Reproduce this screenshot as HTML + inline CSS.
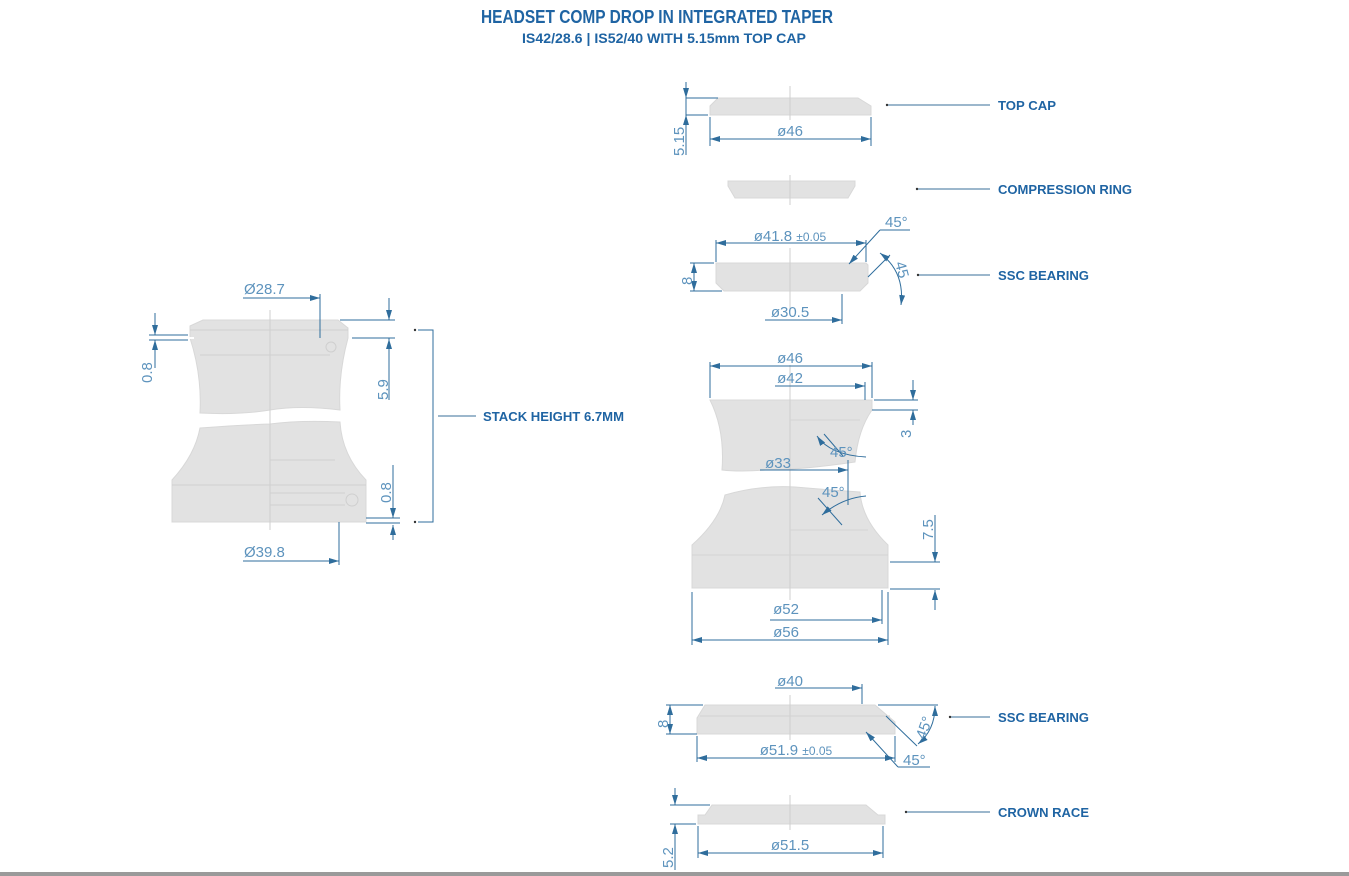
<!DOCTYPE html>
<html><head><meta charset="utf-8"><style>
html,body{margin:0;padding:0;background:#fff;}
svg{display:block;}
.t{font-family:"Liberation Sans Narrow","Liberation Sans",sans-serif;font-weight:bold;fill:#1f64a3;}
.d{font-family:"Liberation Sans",sans-serif;fill:#5d93bd;font-size:15px;}
.p{fill:#e2e2e2;stroke:#d8d8d8;stroke-width:1;}
.l{stroke:#2f6d9c;stroke-width:1;fill:none;}
.c{stroke:#cfcfcf;stroke-width:1;}
.ld{stroke:#3a6f99;stroke-width:1;}
</style></head><body>
<svg width="1349" height="876" viewBox="0 0 1349 876" xmlns="http://www.w3.org/2000/svg">
<defs>
<marker id="a" viewBox="0 0 10 6" refX="10" refY="3" markerWidth="10" markerHeight="6" orient="auto-start-reverse" markerUnits="userSpaceOnUse"><path d="M0,0 L10,3 L0,6 z" fill="#2f6d9c"/></marker>
</defs>
<text class="t" x="657" y="23" font-size="18" text-anchor="middle" textLength="352" lengthAdjust="spacingAndGlyphs">HEADSET COMP DROP IN INTEGRATED TAPER</text>
<text class="t" x="664" y="43" font-size="14" text-anchor="middle" textLength="284" lengthAdjust="spacingAndGlyphs">IS42/28.6 | IS52/40 WITH 5.15mm TOP CAP</text>

<!-- labels -->
<g class="t" font-size="13">
<text x="998" y="110" textLength="58" lengthAdjust="spacingAndGlyphs">TOP CAP</text>
<text x="998" y="194" textLength="134" lengthAdjust="spacingAndGlyphs">COMPRESSION RING</text>
<text x="998" y="280" textLength="91" lengthAdjust="spacingAndGlyphs">SSC BEARING</text>
<text x="998" y="722" textLength="91" lengthAdjust="spacingAndGlyphs">SSC BEARING</text>
<text x="998" y="817" textLength="91" lengthAdjust="spacingAndGlyphs">CROWN RACE</text>
<text x="483" y="421" textLength="141" lengthAdjust="spacingAndGlyphs">STACK HEIGHT 6.7MM</text>
</g>
<g class="ld" stroke="#7f97ab">
<line x1="887" y1="105" x2="990" y2="105"/>
<line x1="917" y1="189" x2="990" y2="189"/>
<line x1="918" y1="275" x2="990" y2="275"/>
<line x1="950" y1="717" x2="990" y2="717"/>
<line x1="906" y1="812" x2="990" y2="812"/>
<line x1="438" y1="416" x2="476" y2="416"/>
</g>
<g fill="#333"><circle cx="887" cy="105" r="1.2"/><circle cx="917" cy="189" r="1.2"/><circle cx="918" cy="275" r="1.2"/><circle cx="950" cy="717" r="1.2"/><circle cx="906" cy="812" r="1.2"/><circle cx="415" cy="330" r="1.2"/><circle cx="415" cy="522" r="1.2"/></g>

<!-- TOP CAP -->
<path class="p" d="M718,98 L858,98 L871,106 L871,115 L710,115 L710,106 Z"/>
<line class="c" x1="790" y1="86" x2="790" y2="120"/>
<line class="l" x1="686" y1="86" x2="686" y2="155"/>
<line class="l" x1="686" y1="82" x2="686" y2="98" marker-end="url(#a)"/>
<line class="l" x1="686" y1="130" x2="686" y2="115" marker-end="url(#a)"/>
<line class="l" x1="686" y1="98" x2="718" y2="98"/><line class="l" x1="686" y1="115" x2="708" y2="115"/>
<text class="d" transform="translate(684,156) rotate(-90)">5.15</text>
<line class="l" x1="710" y1="117" x2="710" y2="146"/><line class="l" x1="871" y1="117" x2="871" y2="146"/>
<line class="l" x1="710" y1="139" x2="871" y2="139" marker-start="url(#a)" marker-end="url(#a)"/>
<text class="d" x="790" y="136" text-anchor="middle">ø46</text>

<!-- COMPRESSION RING -->
<path class="p" d="M728,181 L855,181 L855,186 L848,198 L735,198 L728,186 Z"/>
<line class="c" x1="790" y1="175" x2="790" y2="205"/>

<!-- SSC BEARING 1 -->
<path class="p" d="M716,263 L866,263 L868,265 L868,283 L860,291 L724,291 L716,283 Z"/>
<line class="c" x1="790" y1="248" x2="790" y2="310"/>
<line class="l" x1="716" y1="243" x2="866" y2="243" marker-start="url(#a)" marker-end="url(#a)"/>
<line class="l" x1="716" y1="240" x2="716" y2="262"/><line class="l" x1="866" y1="240" x2="866" y2="262"/>
<text class="d" x="790" y="241" text-anchor="middle">ø41.8 <tspan font-size="12">±0.05</tspan></text>
<line class="l" x1="694" y1="263" x2="694" y2="291" marker-start="url(#a)" marker-end="url(#a)"/>
<line class="l" x1="690" y1="263" x2="714" y2="263"/><line class="l" x1="690" y1="291" x2="722" y2="291"/>
<text class="d" transform="translate(692,285) rotate(-90)">8</text>
<line class="l" x1="910" y1="230" x2="880" y2="230"/>
<line class="l" x1="880" y1="230" x2="849" y2="264" marker-end="url(#a)"/>
<text class="d" x="885" y="227">45°</text>
<line class="l" x1="868" y1="277" x2="890" y2="255"/>
<path class="l" d="M880,253 Q905,272 901,305" marker-start="url(#a)" marker-end="url(#a)"/>
<text class="d" transform="translate(895,263) rotate(75)">45</text>
<line class="l" x1="842" y1="294" x2="842" y2="324"/>
<line class="l" x1="765" y1="320" x2="842" y2="320" marker-end="url(#a)"/>
<text class="d" x="790" y="317" text-anchor="middle">ø30.5</text>

<!-- LEFT ASSEMBLY -->
<path class="p" d="M203,320 L338,320 L348,328 L348,338 Q338,375 340,410 Q300,405 270,410 Q240,415 200,413 Q202,375 190,338 L190,326 Z"/>
<path class="p" d="M200,428 Q240,425 270,424 Q300,420 340,422 Q342,455 366,480 L366,522 L172,522 L172,480 Q195,455 200,428 Z"/>
<line class="c" x1="270" y1="310" x2="270" y2="530"/>
<g stroke="#d0d0d0"><line x1="190" y1="330" x2="348" y2="330"/><line x1="200" y1="355" x2="330" y2="355"/><line x1="270" y1="460" x2="335" y2="460"/><line x1="172" y1="485" x2="366" y2="485"/><line x1="270" y1="493" x2="345" y2="493"/><line x1="270" y1="505" x2="345" y2="505"/></g>
<circle cx="331" cy="347" r="5" fill="none" stroke="#cfcfcf"/>
<circle cx="352" cy="500" r="6" fill="none" stroke="#cfcfcf"/>
<line x1="186" y1="338" x2="194" y2="338" stroke="#fff" stroke-width="2"/>
<line class="l" x1="243" y1="298" x2="320" y2="298" marker-end="url(#a)"/>
<line class="l" x1="320" y1="294" x2="320" y2="338"/>
<text class="d" x="244" y="294">Ø28.7</text>
<line class="l" x1="155" y1="313" x2="155" y2="335" marker-end="url(#a)"/>
<line class="l" x1="155" y1="368" x2="155" y2="340" marker-end="url(#a)"/>
<line class="l" x1="149" y1="335" x2="188" y2="335"/><line class="l" x1="149" y1="340" x2="188" y2="340"/>
<text class="d" transform="translate(152,383) rotate(-90)">0.8</text>
<line class="l" x1="389" y1="298" x2="389" y2="320" marker-end="url(#a)"/>
<line class="l" x1="389" y1="338" x2="389" y2="400"/>
<line class="l" x1="389" y1="356" x2="389" y2="339" marker-end="url(#a)"/>
<line class="l" x1="340" y1="320" x2="395" y2="320"/><line class="l" x1="352" y1="338" x2="395" y2="338"/>
<text class="d" transform="translate(388,400) rotate(-90)">5.9</text>
<line class="l" x1="393" y1="465" x2="393" y2="518" marker-end="url(#a)"/>
<line class="l" x1="393" y1="540" x2="393" y2="525" marker-end="url(#a)"/>
<line class="l" x1="366" y1="518" x2="400" y2="518"/><line class="l" x1="366" y1="523" x2="400" y2="523"/>
<text class="d" transform="translate(391,503) rotate(-90)">0.8</text>
<polyline class="l" stroke="#7f97ab" points="418,330 433,330 433,522 418,522"/>
<line class="l" x1="339" y1="522" x2="339" y2="565"/>
<line class="l" x1="243" y1="561" x2="339" y2="561" marker-end="url(#a)"/>
<text class="d" x="244" y="557">Ø39.8</text>

<!-- MIDDLE CUP -->
<path class="p" d="M710,400 L872,400 L872,410 Q858,430 855,462 Q800,470 765,470 Q740,472 722,470 Q725,430 710,400 Z"/>
<path class="p" d="M725,495 Q760,485 795,487 Q830,490 860,492 Q862,520 888,545 L888,588 L692,588 L692,545 Q720,520 725,495 Z"/>
<line class="c" x1="790" y1="365" x2="790" y2="600"/>
<g stroke="#d4d4d4"><line x1="692" y1="555" x2="888" y2="555"/><line x1="790" y1="420" x2="860" y2="420"/><line x1="790" y1="530" x2="868" y2="530"/></g>
<line class="l" x1="710" y1="366" x2="872" y2="366" marker-start="url(#a)" marker-end="url(#a)"/>
<line class="l" x1="710" y1="362" x2="710" y2="398"/><line class="l" x1="872" y1="362" x2="872" y2="398"/>
<text class="d" x="790" y="363" text-anchor="middle">ø46</text>
<line class="l" x1="775" y1="386" x2="865" y2="386" marker-end="url(#a)"/>
<line class="l" x1="865" y1="382" x2="865" y2="400"/>
<text class="d" x="790" y="383" text-anchor="middle">ø42</text>
<line class="l" x1="913" y1="380" x2="913" y2="400" marker-end="url(#a)"/>
<line class="l" x1="913" y1="425" x2="913" y2="410" marker-end="url(#a)"/>
<line class="l" x1="874" y1="400" x2="918" y2="400"/><line class="l" x1="872" y1="410" x2="918" y2="410"/>
<text class="d" transform="translate(911,438) rotate(-90)">3</text>
<line class="l" x1="824" y1="434" x2="843" y2="456"/>
<path class="l" d="M817,436 Q830,455 866,457" marker-start="url(#a)"/>
<text class="d" x="830" y="457">45°</text>
<line class="l" x1="760" y1="470" x2="848" y2="470" marker-end="url(#a)"/>
<line class="l" x1="848" y1="460" x2="848" y2="505"/>
<text class="d" x="778" y="468" text-anchor="middle">ø33</text>
<path class="l" d="M866,496 Q842,498 822,515" marker-end="url(#a)"/>
<line class="l" x1="818" y1="498" x2="842" y2="525"/>
<text class="d" x="822" y="497">45°</text>
<line class="l" x1="935" y1="515" x2="935" y2="562" marker-end="url(#a)"/>
<line class="l" x1="935" y1="610" x2="935" y2="590" marker-end="url(#a)"/>
<line class="l" x1="890" y1="562" x2="940" y2="562"/><line class="l" x1="890" y1="589" x2="940" y2="589"/>
<text class="d" transform="translate(933,540) rotate(-90)">7.5</text>
<line class="l" x1="692" y1="592" x2="692" y2="645"/><line class="l" x1="888" y1="592" x2="888" y2="645"/>
<line class="l" x1="882" y1="590" x2="882" y2="624"/>
<line class="l" x1="770" y1="620" x2="882" y2="620" marker-end="url(#a)"/>
<text class="d" x="786" y="614" text-anchor="middle">ø52</text>
<line class="l" x1="692" y1="640" x2="888" y2="640" marker-start="url(#a)" marker-end="url(#a)"/>
<text class="d" x="786" y="637" text-anchor="middle">ø56</text>

<!-- SSC BEARING 2 -->
<path class="p" d="M705,705 L875,705 L895,722 L895,734 L697,734 L697,718 Z"/>
<line class="c" x1="790" y1="695" x2="790" y2="740"/>
<line x1="700" y1="716" x2="890" y2="716" stroke="#d2d2d2"/>
<line class="l" x1="775" y1="688" x2="862" y2="688" marker-end="url(#a)"/>
<line class="l" x1="862" y1="684" x2="862" y2="704"/>
<text class="d" x="790" y="686" text-anchor="middle">ø40</text>
<line class="l" x1="670" y1="705" x2="670" y2="734" marker-start="url(#a)" marker-end="url(#a)"/>
<line class="l" x1="666" y1="705" x2="703" y2="705"/><line class="l" x1="666" y1="734" x2="697" y2="734"/>
<text class="d" transform="translate(668,728) rotate(-90)">8</text>
<line class="l" x1="697" y1="736" x2="697" y2="762"/><line class="l" x1="895" y1="736" x2="895" y2="762"/>
<line class="l" x1="697" y1="758" x2="895" y2="758" marker-start="url(#a)" marker-end="url(#a)"/>
<text class="d" x="796" y="755" text-anchor="middle">ø51.9 <tspan font-size="12">±0.05</tspan></text>
<line class="l" x1="878" y1="705" x2="938" y2="705"/>
<line class="l" x1="886" y1="716" x2="917" y2="746"/>
<path class="l" d="M935,706 Q935,730 918,744" marker-start="url(#a)" marker-end="url(#a)"/>
<text class="d" transform="translate(925,740) rotate(-70)">45°</text>
<line class="l" x1="866" y1="732" x2="898" y2="767" marker-start="url(#a)"/>
<line class="l" x1="898" y1="767" x2="930" y2="767"/>
<text class="d" x="903" y="765">45°</text>

<!-- CROWN RACE -->
<path class="p" d="M712,805 L866,805 L878,815 L885,815 L885,824 L698,824 L698,815 L705,815 Z"/>
<line class="c" x1="790" y1="795" x2="790" y2="830"/>
<line class="l" x1="675" y1="788" x2="675" y2="805" marker-end="url(#a)"/>
<line class="l" x1="675" y1="842" x2="675" y2="824" marker-end="url(#a)"/>
<line class="l" x1="675" y1="824" x2="675" y2="870"/>
<line class="l" x1="670" y1="805" x2="710" y2="805"/><line class="l" x1="670" y1="824" x2="696" y2="824"/>
<text class="d" transform="translate(673,868) rotate(-90)">5.2</text>
<line class="l" x1="698" y1="826" x2="698" y2="858"/><line class="l" x1="883" y1="826" x2="883" y2="858"/>
<line class="l" x1="698" y1="853" x2="883" y2="853" marker-start="url(#a)" marker-end="url(#a)"/>
<text class="d" x="790" y="850" text-anchor="middle">ø51.5</text>

<rect x="0" y="872" width="1349" height="4" fill="#9a9a9a"/>
</svg>
</body></html>
